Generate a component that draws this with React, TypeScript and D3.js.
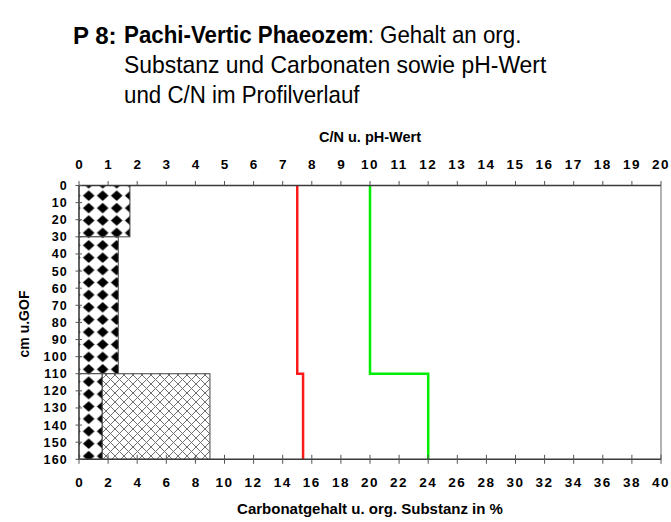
import React from "react";
import * as d3 from "d3";

// ---- data ----
const layerTops = [0, 30, 110];
const layerBottoms = [30, 110, 160];
const carbonate = [3.5, 2.7, 1.6]; // % (diamond pattern)
const orgSubstance = [0, 0, 7.4]; // % stacked on carbonate (cross-hatch)
const phDepth = [0, 110, 110, 160];
const phValues = [7.5, 7.5, 7.7, 7.7];
const cnDepth = [0, 110, 110, 160];
const cnValues = [10, 10, 12, 12];
const topTicks = d3.range(0, 21, 1);
const bottomTicks = d3.range(0, 41, 2);
const depthTicks = d3.range(0, 161, 10);

const W = 671;
const H = 522;
const x0 = 79;
const x1 = 661;
const yTop = 185.5;
const yBot = 459.3;

export default function App() {
  const xTop = d3.scaleLinear().domain([0, 20]).range([x0, x1]);
  const xBot = d3.scaleLinear().domain([0, 40]).range([x0, x1]);
  const y = d3.scaleLinear().domain([0, 160]).range([yTop, yBot]);

  const phLine = d3
    .line<number>()
    .x((_, i) => xTop(phValues[i]))
    .y((d) => y(d));
  const cnLine = d3
    .line<number>()
    .x((_, i) => xTop(cnValues[i]))
    .y((d) => y(d));

  const axisColor = "#3a3a3a";
  const font = "'Liberation Sans', Arial, sans-serif";

  return (
    <svg
      width={W}
      height={H}
      style={{ position: "absolute", left: 0, top: 0, background: "#fff" }}
      fontFamily={font}
    >
      <defs>
        <pattern
          id="diamonds"
          patternUnits="userSpaceOnUse"
          x={81.7}
          y={189.5}
          width={14}
          height={12.4}
        >
          <rect width={14} height={12.4} fill="#fff" />
          <path d="M7,0.9 L12.8,6.2 L7,11.5 L1.2,6.2 Z" fill="#000" />
        </pattern>
        <pattern
          id="crosshatch"
          patternUnits="userSpaceOnUse"
          x={79}
          y={186}
          width={9}
          height={9}
        >
          <rect width={9} height={9} fill="#fff" />
          <path
            d="M-1,-1 L10,10 M10,-1 L-1,10"
            stroke="#707070"
            strokeWidth={1}
          />
        </pattern>
      </defs>

      {/* Title */}
      <text x={73} y={43.5} fontSize={24} fontWeight="bold" fill="#000">
        P 8:
      </text>
      <g transform="translate(124, 0) scale(0.93, 1)" fill="#000" fontSize={24}>
        <text x={0} y={43.5} fontWeight="bold">
          Pachi-Vertic Phaeozem
        </text>
        <text x={262} y={43.5}>
          : Gehalt an org.
        </text>
        <text x={0} y={103.5}>
          und C/N im Profilverlauf
        </text>
      </g>
      <g transform="translate(124, 0) scale(0.955, 1)" fill="#000" fontSize={24}>
        <text x={0} y={73.5}>
          Substanz und Carbonaten sowie pH-Wert
        </text>
      </g>

      {/* Bars */}
      {layerTops.map((t, i) => (
        <g key={"bar" + i}>
          <rect
            x={xBot(0)}
            y={y(t)}
            width={xBot(carbonate[i]) - xBot(0)}
            height={y(layerBottoms[i]) - y(t)}
            fill="url(#diamonds)"
            stroke="#444"
            strokeWidth={1}
          />
          {orgSubstance[i] > 0 && (
            <rect
              x={xBot(carbonate[i])}
              y={y(t)}
              width={xBot(carbonate[i] + orgSubstance[i]) - xBot(carbonate[i])}
              height={y(layerBottoms[i]) - y(t)}
              fill="url(#crosshatch)"
              stroke="#444"
              strokeWidth={1}
            />
          )}
        </g>
      ))}

      {/* Lines */}
      <path d={phLine(phDepth) || ""} fill="none" stroke="#ff1a1a" strokeWidth={2.5} />
      <path d={cnLine(cnDepth) || ""} fill="none" stroke="#00ee00" strokeWidth={2.5} />

      {/* Frame */}
      <line x1={x1} x2={x1} y1={yTop} y2={yBot} stroke="#808080" strokeWidth={1.2} />
      <line x1={x0} x2={x0} y1={yTop} y2={yBot} stroke={axisColor} strokeWidth={1.2} />
      <line x1={x0} x2={x1} y1={yTop} y2={yTop} stroke={axisColor} strokeWidth={1.5} />
      <line x1={x0} x2={x1} y1={yBot} y2={yBot} stroke={axisColor} strokeWidth={1.5} />

      {/* Top axis */}
      {topTicks.map((t) => (
        <g key={"tt" + t}>
          <line x1={xTop(t)} x2={xTop(t)} y1={yTop - 4.5} y2={yTop} stroke="#555" strokeWidth={1} />
          <text
            x={xTop(t)}
            y={169.3}
            fontSize={13.5}
            fontWeight="bold"
            textAnchor="middle"
            letterSpacing={t >= 10 ? 1.5 : 0}
            fill="#000"
          >
            {t}
          </text>
        </g>
      ))}
      <text x={370} y={141.7} fontSize={14.5} fontWeight="bold" textAnchor="middle" fill="#000">
        C/N u. pH-Wert
      </text>

      {/* Bottom axis */}
      {bottomTicks.map((t) => (
        <g key={"bt" + t}>
          <line x1={xBot(t)} x2={xBot(t)} y1={yBot - 4.5} y2={yBot + 4.5} stroke="#555" strokeWidth={1} />
          <text
            x={xBot(t)}
            y={486.7}
            fontSize={13.5}
            fontWeight="bold"
            textAnchor="middle"
            letterSpacing={t >= 10 ? 1.5 : 0}
            fill="#000"
          >
            {t}
          </text>
        </g>
      ))}
      <text x={370} y={514} fontSize={15} fontWeight="bold" textAnchor="middle" fill="#000">
        Carbonatgehalt u. org. Substanz in %
      </text>

      {/* Left axis */}
      {depthTicks.map((t) => (
        <g key={"lt" + t}>
          <line x1={x0 - 3.5} x2={x0 + 3} y1={y(t)} y2={y(t)} stroke="#555" strokeWidth={1} />
          <text
            x={68}
            y={y(t)}
            dy="0.36em"
            fontSize={12.5}
            fontWeight="bold"
            textAnchor="end"
            letterSpacing={1.2}
            fill="#000"
          >
            {t}
          </text>
        </g>
      ))}
      <text
        transform={`translate(29, 324) rotate(-90)`}
        fontSize={14}
        fontWeight="bold"
        textAnchor="middle"
        fill="#000"
      >
        cm u.GOF
      </text>
    </svg>
  );
}
